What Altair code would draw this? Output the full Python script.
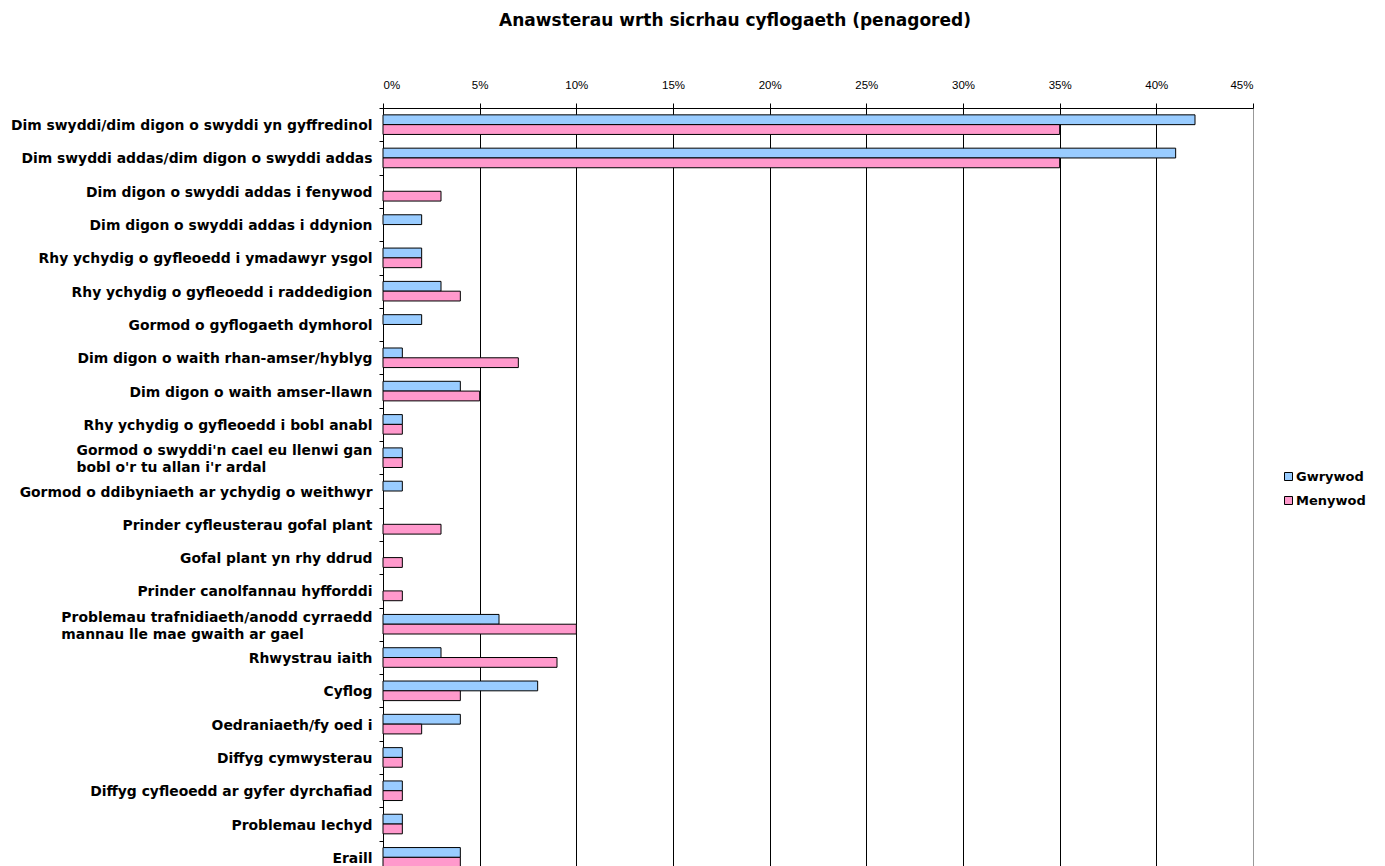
import altair as alt
import pandas as pd

PAD = "\u2800"  # blank, non-space glyph used to left-align wrapped label lines
NB = "\u00a0"

categories = [
    "Dim swyddi/dim digon o swyddi yn gyffredinol",
    "Dim swyddi addas/dim digon o swyddi addas",
    "Dim digon o swyddi addas i fenywod",
    "Dim digon o swyddi addas i ddynion",
    "Rhy ychydig o gyfleoedd i ymadawyr ysgol",
    "Rhy ychydig o gyfleoedd i raddedigion",
    "Gormod o gyflogaeth dymhorol",
    "Dim digon o waith rhan-amser/hyblyg",
    "Dim digon o waith amser-llawn",
    "Rhy ychydig o gyfleoedd i bobl anabl",
    "Gormod o swyddi'n cael eu llenwi gan|bobl o'r tu allan i'r ardal" + NB * 4 + PAD * 8,
    "Gormod o ddibyniaeth ar ychydig o weithwyr",
    "Prinder cyfleusterau gofal plant",
    "Gofal plant yn rhy ddrud",
    "Prinder canolfannau hyfforddi",
    "Problemau trafnidiaeth/anodd cyrraedd|mannau lle mae gwaith ar gael" + NB * 3 + PAD * 5,
    "Rhwystrau iaith",
    "Cyflog",
    "Oedraniaeth/fy oed i",
    "Diffyg cymwysterau",
    "Diffyg cyfleoedd ar gyfer dyrchafiad",
    "Problemau Iechyd",
    "Eraill",
]
gwrywod = [42, 41, 0, 2, 2, 3, 2, 1, 4, 1, 1, 1, 0, 0, 0, 6, 3, 8, 4, 1, 1, 1, 4]
menywod = [35, 35, 3, 0, 2, 4, 0, 7, 5, 1, 1, 0, 3, 1, 1, 10, 9, 4, 2, 1, 1, 1, 4]
series = ["Gwrywod", "Menywod"]
colors = ["#99CCFF", "#FF99CC"]
x_ticks = [0, 5, 10, 15, 20, 25, 30, 35, 40, 45]

rows = []
for c, g, m in zip(categories, gwrywod, menywod):
    rows.append({"cat": c, "series": series[0], "value": g})
    rows.append({"cat": c, "series": series[1], "value": m})
df = pd.DataFrame(rows)

FONT = "DejaVu Sans"
XFONT = "Liberation Sans"

chart = (
    alt.Chart(df)
    .transform_filter("datum.value > 0")
    .mark_bar(stroke="black", strokeWidth=1)
    .encode(
        x=alt.X(
            "value:Q",
            scale=alt.Scale(domain=[0, 45], nice=False),
            axis=alt.Axis(
                orient="top",
                values=x_ticks,
                title=None,
                labelExpr="datum.value + '%'",
                labelFont=XFONT,
                labelFontSize=11.5,
                labelColor="black",
                labelPadding=13,
                tickSize=5,
                tickColor="black",
                domainColor="black",
                grid=True,
                gridColor={"condition": {"test": "datum.value === 45", "value": "#999999"}, "value": "black"},
                gridOpacity=1,
                gridWidth=1,
            ),
        ),
        y=alt.Y(
            "cat:N",
            sort=categories,
            scale=alt.Scale(paddingInner=0, paddingOuter=0, range=[0, 766]),
            axis=alt.Axis(
                title=None,
                labelExpr="split(datum.label, '|')",
                labelFont=FONT,
                labelFontWeight="bold",
                labelFontSize=13.9,
                labelColor="black",
                labelLimit=500,
                labelLineHeight=17,
                labelPadding=7,
                labelOffset={"condition": {"test": "indexof(datum.label, '|') >= 0", "value": -7}, "value": 1},
                tickSize=4,
                tickColor="black",
                tickBand="extent",
                domainColor="black",
                grid=False,
            ),
        ),
        yOffset=alt.YOffset("series:N", sort=series, scale=alt.Scale(paddingInner=0, paddingOuter=0.7)),
        color=alt.Color(
            "series:N",
            sort=series,
            scale=alt.Scale(domain=series, range=colors),
            legend=alt.Legend(
                title=None,
                orient="none",
                legendX=899,
                legendY=362,
                symbolType="square",
                symbolSize=64,
                symbolStrokeColor="black",
                symbolStrokeWidth=1,
                symbolOpacity=1,
                labelFont=FONT,
                labelFontWeight="bold",
                labelFontSize=13,
                labelColor="black",
                labelOffset=1,
                rowPadding=10,
                padding=0,
            ),
        ),
    )
    .properties(
        width=870,
        height=758,
        padding={"left": 375, "top": 100, "right": 122, "bottom": 0},
        autosize=alt.AutoSizeParams(type="none"),
        title=alt.TitleParams(
            "Anawsterau wrth sicrhau cyflogaeth (penagored)",
            font=FONT,
            fontSize=17,
            fontWeight="bold",
            color="black",
            anchor="middle",
            dx=-83,
            offset=49,
        ),
    )
    .configure_view(strokeWidth=0)
)

chart.save("out.html", embed_options={"renderer": "svg", "actions": False})
